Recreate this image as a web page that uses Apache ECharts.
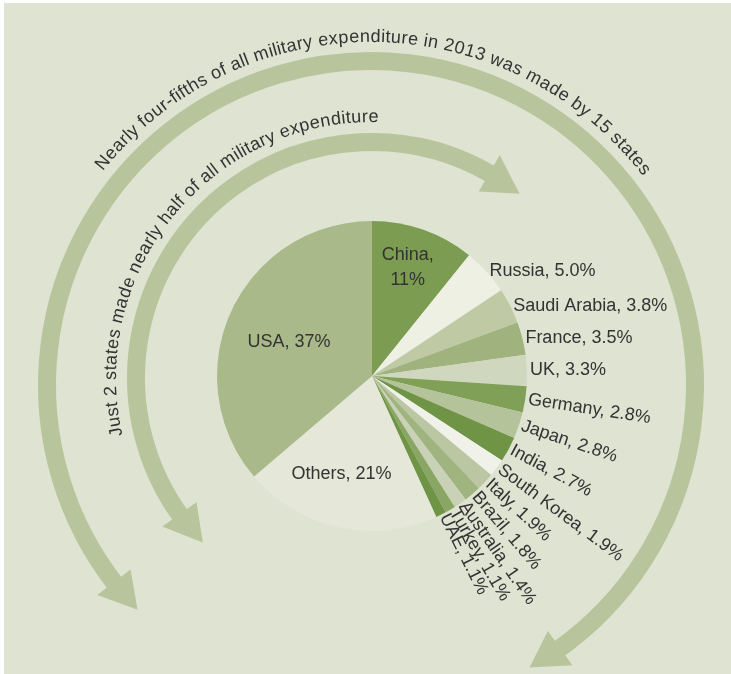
<!DOCTYPE html>
<html>
<head>
<meta charset="utf-8">
<script src="https://cdn.jsdelivr.net/npm/echarts@6/dist/echarts.min.js"></script>
<style>
  html, body { margin: 0; padding: 0; background: #fff; }
  #chart { width: 731px; height: 674px; }
</style>
</head>
<body>
<div id="chart"></div>
<script>
// share of world military expenditure, 2013 (%)
const countries = ['China', 'Russia', 'Saudi Arabia', 'France', 'UK', 'Germany', 'Japan', 'India',
  'South Korea', 'Italy', 'Brazil', 'Australia', 'Turkey', 'UAE', 'Others', 'USA'];
const shares = [11, 5.0, 3.8, 3.5, 3.3, 2.8, 2.8, 2.7, 1.9, 1.9, 1.8, 1.4, 1.1, 1.1, 21, 37];
const sliceColors = ['#7c9c52', '#eef0e4', '#bfcaa5', '#a0b37e', '#d0d7bf', '#809f57', '#b5c39a', '#6f9446',
  '#f0f2e9', '#bac7a2', '#a0b47f', '#c9d2b6', '#8aa664', '#6f9446', '#e5e8d8', '#a9b98a'];
// these labels stay flat, the other outside ones turn along the radius
const flatLabels = ['Russia', 'Saudi Arabia', 'France', 'UK'];
const insideLabels = ['China', 'Others', 'USA'];

const outerNote = 'Nearly four-fifths of all military expenditure in 2013 was made by 15 states';
const innerNote = 'Just 2 states made nearly half of all military expenditure';

const FONT = '"Liberation Sans", Arial, sans-serif';
const ARROW = '#b8c59c';
const TEXT = '#333';

// deg is measured clockwise from 12 o'clock
function polar(c, r, deg) {
  const a = deg * Math.PI / 180;
  return [c[0] + r * Math.sin(a), c[1] - r * Math.cos(a)];
}

// curved band with a head at each end
function arcArrow(c, r, from, to, head) {
  const rad = d => (d - 90) * Math.PI / 180;
  const els = [{
    type: 'arc',
    silent: true,
    shape: { cx: c[0], cy: c[1], r: r, startAngle: rad(from + head - 0.8), endAngle: rad(to - head + 0.8), clockwise: true },
    style: { stroke: ARROW, lineWidth: 18, fill: 'none', lineCap: 'butt' }
  }];
  [[from, from + head], [to, to - head]].forEach(([tip, base]) => {
    els.push({
      type: 'polygon',
      silent: true,
      shape: { points: [polar(c, r, tip), polar(c, r - 21, base), polar(c, r + 21, base)] },
      style: { fill: ARROW }
    });
  });
  return els;
}

// text laid out letter by letter along an arc, reading clockwise
function curvedText(text, c, r, from, to, size) {
  const ctx = document.createElement('canvas').getContext('2d');
  ctx.font = size + 'px ' + FONT;
  const chars = Array.from(text);
  const widths = chars.map(ch => ctx.measureText(ch).width);
  const total = widths.reduce((a, b) => a + b, 0);
  let run = 0;
  return chars.map((ch, i) => {
    const deg = from + (run + widths[i] / 2) / total * (to - from);
    run += widths[i];
    const p = polar(c, r, deg);
    return {
      type: 'text',
      silent: true,
      x: p[0], y: p[1],
      rotation: -deg * Math.PI / 180,
      style: {
        text: ch, font: size + 'px ' + FONT, fill: TEXT,
        align: 'center', verticalAlign: 'middle', textAlign: 'center', textVerticalAlign: 'middle'
      }
    };
  });
}

const pieData = countries.map((name, i) => {
  const item = { name: name, value: shares[i], itemStyle: { color: sliceColors[i] } };
  if (insideLabels.includes(name)) item.label = { position: 'inside', rotate: 0 };
  else if (flatLabels.includes(name)) item.label = { rotate: 0 };
  return item;
});

// small shifts of the inside labels
const labelNudge = { China: [9, -33], USA: [-10, 0], Others: [-13, 19] };

const outerC = [371, 385];
const innerC = [372, 378];

const graphics = [{
  type: 'rect', silent: true, z: -10,
  shape: { x: 4, y: 3, width: 727, height: 671 },
  style: { fill: '#dfe3d2' }
}]
  .concat(arcArrow(outerC, 324, -133.9, 150.7, 6.4))
  .concat(arcArrow(innerC, 236, -134.2, 38.7, 8.9))
  .concat(curvedText(outerNote, outerC, 348, -51.5, 52.5, 18))
  .concat(curvedText(innerNote, innerC, 261, -103, 1.5, 18));

const chart = echarts.init(document.getElementById('chart'));
chart.setOption({
  backgroundColor: '#fff',
  animation: false,
  graphic: { elements: graphics },
  series: [{
    type: 'pie',
    center: [372, 376],
    radius: 155,
    startAngle: 90,
    clockwise: true,
    avoidLabelOverlap: false,
    silent: true,
    emphasis: { disabled: true },
    label: {
      position: 'outside',
      rotate: 'radial',
      distanceToLabelLine: 3,
      fontSize: 18,
      fontFamily: FONT,
      color: TEXT,
      lineHeight: 25,
      formatter: p => {
        const v = p.value >= 10 ? p.value + '%' : p.value.toFixed(1) + '%';
        return p.name === 'China' ? p.name + ',\n' + v : p.name + ', ' + v;
      }
    },
    labelLine: { show: false, length: 0, length2: 0 },
    labelLayout: p => {
      const n = labelNudge[countries[p.dataIndex]];
      return n ? { dx: n[0], dy: n[1] } : {};
    },
    data: pieData
  }]
});
</script>
</body>
</html>
